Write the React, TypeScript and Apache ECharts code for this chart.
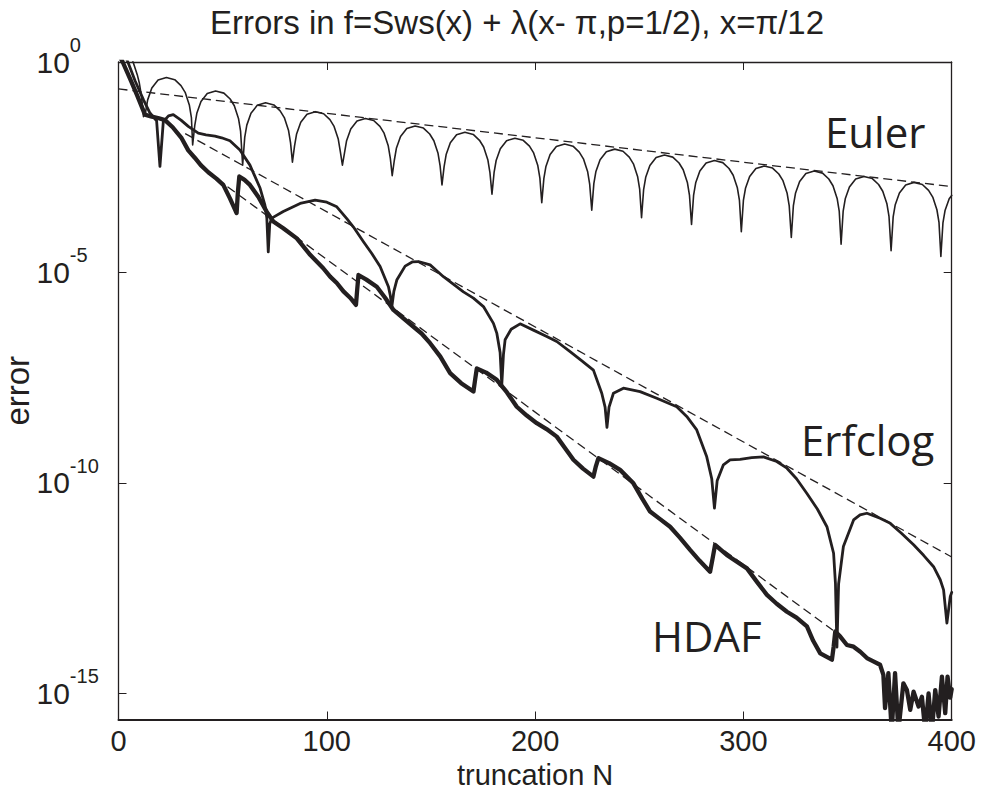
import React, { useEffect, useRef } from "react";
import * as echarts from "echarts";

// ---- data (y values are log10(error)) ----
const titleText = "Errors in f=Sws(x) + \u03bb(x- \u03c0,p=1/2), x=\u03c0/12";
const xAxisName = "truncation N";
const yAxisName = "error";
const yTickExponents = [0, -5, -10, -15];
const xMin = 0;
const xMax = 400;
const xInterval = 100;
const yMinExp = -15.62;
const yMaxExp = 0;

const eulerCurve: [number, number][] = [
  [0, 0.8], [3, 0.45], [5, 0.22], [7, 0.0], [9, -0.3], [10, -0.5], [11, -0.8], [12, -1.3],
  [13, -1.19], [14, -0.9], [16, -0.62], [19, -0.43], [23, -0.37], [27, -0.42], [30, -0.56], [32, -0.72], [34, -1.02], [35, -1.32], [35.6, -1.97],
  [36.6, -1.51], [37.6, -1.22], [39.6, -0.94], [42.6, -0.75], [46.6, -0.69], [50.6, -0.74], [53.6, -0.88], [55.6, -1.04], [57.6, -1.34], [58.6, -1.64], [59.6, -2.45],
  [60.6, -1.79], [61.6, -1.5], [63.6, -1.22], [66.6, -1.03], [70.6, -0.97], [74.6, -1.02], [77.6, -1.16], [79.6, -1.32], [81.6, -1.62], [82.6, -1.92], [83.5, -2.38],
  [84.5, -2.0], [85.5, -1.71], [87.5, -1.43], [90.5, -1.24], [94.5, -1.18], [98.5, -1.23], [101.5, -1.37], [103.5, -1.53], [105.5, -1.83], [106.5, -2.13], [107.5, -2.45],
  [108.5, -2.16], [109.5, -1.87], [111.5, -1.59], [114.5, -1.4], [118.5, -1.34], [122.5, -1.39], [125.5, -1.53], [127.5, -1.69], [129.5, -1.99], [130.5, -2.29], [131.4, -2.7],
  [132.4, -2.34], [133.4, -2.05], [135.4, -1.77], [138.4, -1.58], [142.4, -1.52], [146.4, -1.57], [149.4, -1.71], [151.4, -1.87], [153.4, -2.17], [154.4, -2.47], [155.3, -2.92],
  [156.3, -2.49], [157.3, -2.2], [159.3, -1.92], [162.3, -1.73], [166.3, -1.67], [170.3, -1.72], [173.3, -1.86], [175.3, -2.02], [177.3, -2.32], [178.3, -2.62], [179.3, -3.14],
  [180.3, -2.63], [181.3, -2.34], [183.3, -2.06], [186.3, -1.87], [190.3, -1.81], [194.3, -1.86], [197.3, -2.0], [199.3, -2.16], [201.3, -2.46], [202.3, -2.76], [203.2, -3.34],
  [204.2, -2.77], [205.2, -2.48], [207.2, -2.2], [210.2, -2.01], [214.2, -1.95], [218.2, -2.0], [221.2, -2.14], [223.2, -2.3], [225.2, -2.6], [226.2, -2.9], [227.2, -3.52],
  [228.2, -2.89], [229.2, -2.6], [231.2, -2.32], [234.2, -2.13], [238.2, -2.07], [242.2, -2.12], [245.2, -2.26], [247.2, -2.42], [249.2, -2.72], [250.2, -3.02], [251.1, -3.7],
  [252.1, -3.03], [253.1, -2.74], [255.1, -2.46], [258.1, -2.27], [262.1, -2.21], [266.1, -2.26], [269.1, -2.4], [271.1, -2.56], [273.1, -2.86], [274.1, -3.16], [275.1, -3.86],
  [276.1, -3.16], [277.1, -2.87], [279.1, -2.59], [282.1, -2.4], [286.1, -2.34], [290.1, -2.39], [293.1, -2.53], [295.1, -2.69], [297.1, -2.99], [298.1, -3.29], [299.0, -4.03],
  [300, -3.29], [301, -3.0], [303, -2.72], [306, -2.53], [310, -2.47], [314, -2.52], [317, -2.66], [319, -2.82], [321, -3.12], [322, -3.42], [323, -4.17],
  [324, -3.41], [325, -3.12], [327, -2.84], [330, -2.65], [334, -2.59], [338, -2.64], [341, -2.78], [343, -2.94], [345, -3.24], [346, -3.54], [346.9, -4.33],
  [347.9, -3.54], [348.9, -3.25], [350.9, -2.97], [353.9, -2.78], [357.9, -2.72], [361.9, -2.77], [364.9, -2.91], [366.9, -3.07], [368.9, -3.37], [369.9, -3.67], [370.9, -4.48],
  [371.9, -3.68], [372.9, -3.39], [374.9, -3.11], [377.9, -2.92], [381.9, -2.86], [385.9, -2.91], [388.9, -3.05], [390.9, -3.21], [392.9, -3.51], [393.9, -3.81], [394.8, -4.62],
  [395.8, -3.82], [396.8, -3.53], [398.8, -3.25], [400, -3.17],
];

const erfclogCurve: [number, number][] = [
  [0, 0.5], [4.5, 0.0], [8, -0.45], [12, -0.9], [15, -1.2], [18.3, -1.4], [19.9, -2.48], [21.5, -1.42],
  [24, -1.28], [26.3, -1.25], [30, -1.38], [33.5, -1.53], [38.3, -1.69], [42, -1.73], [46.3, -1.76], [49.5, -1.8],
  [53.5, -1.87], [58.3, -2.09], [63.1, -2.45], [68, -3.0], [70.3, -3.4], [71.2, -3.7], [71.9, -4.51], [72.6, -3.85],
  [73.6, -3.71], [79.1, -3.55], [87.2, -3.36], [94.4, -3.28], [100, -3.33], [104.8, -3.44], [109.6, -3.72], [112.8, -3.92],
  [117.6, -4.27], [121.6, -4.55], [125.6, -4.86], [129.6, -5.34], [130.5, -5.55], [131.2, -5.82], [132.2, -5.45], [133.6, -5.18],
  [137.6, -4.85], [141, -4.75], [144, -4.74], [149.6, -4.82], [156, -5.1], [165.6, -5.46], [170.4, -5.61], [175.2, -5.81],
  [180, -6.21], [181.6, -6.44], [183.2, -6.9], [184, -7.67], [184.8, -6.95], [185.6, -6.6], [188.5, -6.35], [192.8, -6.22],
  [199.2, -6.37], [205.6, -6.52], [210.4, -6.64], [216.8, -6.88], [222, -7.08], [228, -7.32], [232, -7.87], [233.6, -8.2],
  [234.5, -8.68], [235.5, -8.2], [237.6, -7.87], [242.4, -7.75], [250.4, -7.83], [258.4, -7.99], [268, -8.19], [272.8, -8.42],
  [277.6, -8.74], [282.4, -9.38], [284.8, -9.9], [286.1, -10.6], [287.4, -9.95], [290.4, -9.57], [293.6, -9.45], [298.4, -9.44],
  [304, -9.4], [309.6, -9.38], [316, -9.49], [320.9, -9.65], [325.5, -9.9], [330.5, -10.25], [335.5, -10.62], [340.1, -11.04],
  [343.3, -11.67], [344.2, -12.4], [344.9, -13.9], [345.7, -12.4], [348, -11.51], [352.9, -10.88], [356, -10.76], [359.3, -10.72],
  [365.6, -10.84], [370.5, -10.96], [376, -11.2], [381.7, -11.47], [386.5, -11.72], [391.3, -11.99], [394.5, -12.3], [396.1, -12.54],
  [397.7, -13.33], [399.3, -12.7], [400, -12.6],
];

const hdafCurve: [number, number][] = [
  [0, 0.2], [2, 0.0], [6, -0.45], [9, -0.8], [12.7, -1.25], [16, -1.3], [19, -1.33], [22.3, -1.38],
  [26, -1.55], [30.3, -1.81], [33.5, -2.1], [36.7, -2.28], [39.5, -2.45], [43.1, -2.62], [47, -2.77], [50.3, -2.92],
  [53.5, -3.24], [56.7, -3.59], [57.3, -3.1], [58.0, -2.72], [60.5, -2.8], [63.1, -2.92], [67.1, -3.2], [71.2, -3.56],
  [74.3, -3.79], [79.1, -3.95], [85.6, -4.19], [92, -4.58], [98.3, -4.9], [101.6, -5.1], [104.8, -5.25], [108, -5.45],
  [111.2, -5.6], [114, -5.77], [114.6, -5.4], [115.2, -5.06], [119, -5.17], [124, -5.34], [128, -5.6], [132, -5.89],
  [136.5, -6.08], [141.6, -6.29], [145.5, -6.45], [149.6, -6.68], [154.5, -7.0], [159.2, -7.39], [164.5, -7.63], [170.4, -7.83],
  [171.2, -7.55], [172, -7.28], [176.5, -7.38], [181.6, -7.55], [186.5, -7.85], [191.2, -8.19], [196, -8.4], [200.8, -8.58],
  [205.5, -8.72], [210.4, -8.9], [214.5, -9.18], [218.4, -9.45], [223, -9.66], [228, -9.85], [229.2, -9.6], [230.4, -9.41],
  [235.5, -9.53], [240.8, -9.69], [247.2, -10.01], [251.5, -10.38], [255.2, -10.68], [260, -10.86], [264.8, -11.04], [269.5, -11.3],
  [274.4, -11.59], [279, -11.85], [284, -12.11], [285.2, -11.8], [286.4, -11.47], [292, -11.71], [301.7, -12.03], [306.5, -12.35],
  [311.3, -12.66], [316, -12.87], [320.9, -13.06], [325.5, -13.2], [330.5, -13.41], [333.5, -13.75], [336.9, -14.05], [342.5, -14.2],
  [343.3, -13.9], [344.1, -13.53], [346.5, -13.65], [349.7, -13.85], [352.9, -13.89], [356.1, -14.01], [359.3, -14.16], [362.4, -14.24],
  [365.6, -14.32], [367.2, -14.56], [368, -15.35], [369.6, -14.52], [371.2, -15.9], [372.8, -14.52], [374.4, -15.9], [376.8, -14.76],
  [378.5, -14.92], [380.1, -15.39], [381.7, -14.96], [384.1, -15.31], [385.7, -15.08], [387.3, -15.9], [388.9, -15.0], [390.5, -15.9],
  [392.1, -14.92], [393.7, -15.55], [395.3, -14.6], [396.9, -15.47], [398, -14.6], [399.3, -15.1], [400, -14.9],
];

const eulerTrend: [number, number][] = [[0, -0.64], [400, -2.96]];
const erfclogTrend: [number, number][] = [[32, -1.7], [400, -11.76]];
const hdafTrend: [number, number][] = [[41.5, -2.57], [343, -13.5]];

const curveLabels = ["Euler", "Erfclog", "HDAF"];

// ---- styling ----
const INK = "#231f20";
const SANS = "'Liberation Sans', Arial, Helvetica, sans-serif";
const NOTE = "'Open Sans', 'Noto Sans', sans-serif";

export default function App() {
  const ref = useRef<HTMLDivElement>(null);

  useEffect(() => {
    if (!ref.current) return;
    const chart = echarts.init(ref.current, undefined, { renderer: "svg" });

    const tickLine = { color: INK, width: 1 };
    const baseX = {
      type: "value" as const,
      min: xMin,
      max: xMax,
      interval: xInterval,
      splitLine: { show: false },
      axisTick: { show: true, inside: true, length: 8, lineStyle: tickLine },
    };
    const baseY = {
      type: "value" as const,
      min: yMinExp,
      max: yMaxExp,
      splitNumber: 3,
      minInterval: 5,
      maxInterval: 5,
      splitLine: { show: false },
      axisTick: { show: true, inside: true, length: 8, lineStyle: tickLine },
    };

    const solid = (name: string, data: [number, number][], width: number, z: number) => ({
      name,
      type: "line",
      data,
      showSymbol: false,
      symbol: "none",
      silent: true,
      clip: true,
      z,
      lineStyle: { color: INK, width, join: "round", cap: "round" },
      emphasis: { disabled: true },
    });
    const dashed = (name: string, data: [number, number][]) => ({
      name,
      type: "line",
      data,
      showSymbol: false,
      symbol: "none",
      silent: true,
      z: 5,
      lineStyle: { color: INK, width: 1.3, type: [9, 5] },
      emphasis: { disabled: true },
    });

    chart.setOption({
      animation: false,
      backgroundColor: "#ffffff",
      title: {
        text: titleText,
        left: 210,
        top: 0,
        padding: [6, 0, 0, 0],
        textStyle: { fontFamily: SANS, fontSize: 33, fontWeight: "normal", color: INK },
      },
      grid: { left: 118.5, top: 62, right: 29.3, bottom: 72.5, containLabel: false, outerBoundsMode: "none" },
      xAxis: [
        {
          ...baseX,
          position: "bottom",
          name: xAxisName,
          nameLocation: "middle",
          nameGap: 43,
          nameMoveOverlap: false,
          nameTextStyle: { fontFamily: SANS, fontSize: 29, lineHeight: 24, color: INK, verticalAlign: "top" },
          axisLine: { show: true, onZero: false, lineStyle: { color: INK, width: 2 } },
          axisLabel: { show: true, margin: 8, fontFamily: SANS, fontSize: 29, lineHeight: 26, color: INK },
        },
        {
          ...baseX,
          position: "top",
          axisLine: { show: true, onZero: false, lineStyle: { color: INK, width: 1.3 } },
          axisLabel: { show: false },
        },
      ],
      yAxis: [
        {
          ...baseY,
          position: "left",
          name: yAxisName,
          nameLocation: "middle",
          nameGap: 85,
          nameMoveOverlap: false,
          nameTextStyle: { fontFamily: SANS, fontSize: 33, color: INK },
          axisLine: { show: true, onZero: false, lineStyle: { color: INK, width: 1.3 } },
          axisLabel: {
            show: true,
            showMinLabel: false,
            align: "left",
            margin: 82,
            formatter: (v: number) => {
              const r = Math.round(v);
              if (Math.abs(v - r) > 1e-6 || yTickExponents.indexOf(r) < 0) return "";
              return `{b|10}{s|${r}}`;
            },
            rich: {
              b: { fontFamily: SANS, fontSize: 30, lineHeight: 30, color: INK, verticalAlign: "bottom", padding: [10, 0, 0, 0] },
              s: { fontFamily: SANS, fontSize: 20, lineHeight: 20, color: INK, verticalAlign: "bottom", padding: [10, 0, 22, 0] },
            },
          },
        },
        {
          ...baseY,
          position: "right",
          axisLine: { show: true, onZero: false, lineStyle: { color: INK, width: 1.3 } },
          axisLabel: { show: false },
        },
      ],
      graphic: [
        { type: "text", x: 825, y: 110, silent: true, style: { text: curveLabels[0], font: `42px ${NOTE}`, fill: INK } },
        { type: "text", x: 801, y: 418, silent: true, style: { text: curveLabels[1], font: `42px ${NOTE}`, fill: INK } },
        { type: "text", x: 652, y: 614, silent: true, style: { text: curveLabels[2], font: `42px ${NOTE}`, fill: INK } },
      ],
      series: [
        solid("Euler", eulerCurve, 1.6, 3),
        solid("Erfclog", erfclogCurve, 2.8, 3),
        solid("HDAF", hdafCurve, 4.3, 3),
        dashed("Euler trend", eulerTrend),
        dashed("Erfclog trend", erfclogTrend),
        dashed("HDAF trend", hdafTrend),
      ],
    });

    return () => chart.dispose();
  }, []);

  return (
    <div
      ref={ref}
      style={{ position: "absolute", left: 0, top: 0, width: 981, height: 792, background: "#fff" }}
    />
  );
}
